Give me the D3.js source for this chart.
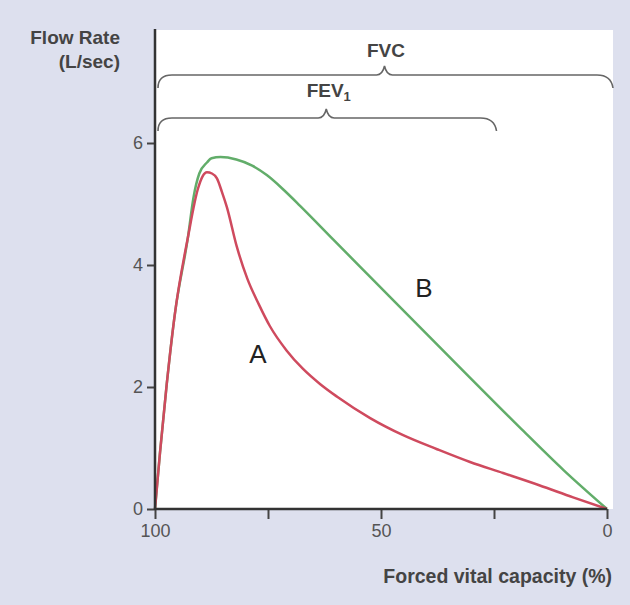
<!DOCTYPE html>
<html>
<head>
<meta charset="utf-8">
<script src="https://cdn.jsdelivr.net/npm/d3@7"></script>
<style>
  body { margin: 0; background: #dde0ee; }
  svg { display: block; font-family: "Liberation Sans", Arial, sans-serif; }
</style>
</head>
<body>
<div id="chart"></div>
<script>
// Kapazität (%) und Fluss (L/sec) – Kurve A (obstruktiv) und B (normal)
const capA = [100, 98.9, 97.4, 95.6, 92.7, 90.5, 89.5, 88.5, 87.4, 86.3, 85.2, 84.1, 81.9, 79.6, 77.0, 74.6, 70.9, 67.3, 63.5, 59.7, 52.4, 45.1, 37.6, 30.3, 23.0, 15.0, 7.5, 0];
const flowA = [0, 0.92, 2.05, 3.2, 4.46, 5.25, 5.45, 5.52, 5.5, 5.42, 5.2, 4.95, 4.3, 3.78, 3.35, 3.0, 2.6, 2.3, 2.05, 1.84, 1.49, 1.21, 0.98, 0.77, 0.59, 0.39, 0.19, 0];

const capB = [100, 98.9, 97.4, 95.6, 92.7, 91.5, 90.2, 88.5, 87.5, 85.5, 82.0, 78.5, 75.2, 71.5, 67.9, 60.6, 51.8, 41.4, 30.0, 19.2, 9.5, 0];
const flowB = [0, 0.92, 2.05, 3.2, 4.46, 5.1, 5.5, 5.68, 5.75, 5.77, 5.73, 5.63, 5.47, 5.23, 4.97, 4.42, 3.76, 2.98, 2.13, 1.33, 0.63, 0];

const yTicks = [0, 2, 4, 6];
const xTicks = [100, 75, 50, 25, 0];
const xTickLabels = { 100: "100", 50: "50", 0: "0" };

// Klammern: FVC über die ganze Kapazität, FEV1 bis ca. 24 %
const fvcSpan = [100, 0];
const fev1Span = [100, 24];

const width = 630, height = 605;

const svg = d3.select("#chart").append("svg")
    .attr("width", width)
    .attr("height", height);

const x = d3.scaleLinear().domain([100, 0]).range([155, 607]);
const y = d3.scaleLinear().domain([0, 6]).range([509, 143]);

// weißes Feld
svg.append("rect")
    .attr("x", x(100)).attr("y", 30)
    .attr("width", 613 - x(100)).attr("height", y(0) - 30)
    .style("fill", "#fff");

// Kurven
const line = d3.line().curve(d3.curveMonotoneX);

svg.append("path")
    .attr("d", line(capB.map((c, i) => [x(c), y(flowB[i])])))
    .style("fill", "none")
    .style("stroke", "#62ad6a")
    .style("stroke-width", 2.5);

svg.append("path")
    .attr("d", line(capA.map((c, i) => [x(c), y(flowA[i])])))
    .style("fill", "none")
    .style("stroke", "#cf4a5e")
    .style("stroke-width", 2.5);

// Achsen
const yAxis = svg.append("g")
    .attr("transform", `translate(${x(100)},0)`)
    .call(d3.axisLeft(y).tickValues(yTicks).tickSize(8).tickPadding(4).tickFormat(d3.format("d")));
yAxis.select(".domain").remove();

const xAxis = svg.append("g")
    .attr("transform", `translate(0,${y(0)})`)
    .call(d3.axisBottom(x).tickValues(xTicks).tickSize(10).tickPadding(5)
        .tickFormat(d => xTickLabels[d] || ""));
xAxis.select(".domain").remove();

svg.selectAll(".tick line").style("stroke", "#444").style("stroke-width", 2);
svg.selectAll(".tick text")
    .style("font-size", "18px")
    .style("fill", "#555")
    .style("font-family", "Liberation Sans, Arial, sans-serif");

svg.append("line")
    .attr("x1", x(100)).attr("x2", x(100))
    .attr("y1", 29).attr("y2", y(0) + 1)
    .style("stroke", "#333").style("stroke-width", 2.5);
svg.append("line")
    .attr("x1", x(100)).attr("x2", x(0))
    .attr("y1", y(0)).attr("y2", y(0))
    .style("stroke", "#333").style("stroke-width", 2.5);

// Achsentitel
const yTitle = svg.append("text")
    .attr("text-anchor", "end")
    .style("font-weight", "bold")
    .style("font-size", "19px")
    .style("fill", "#444");
yTitle.append("tspan").attr("x", 120).attr("y", 44).text("Flow Rate");
yTitle.append("tspan").attr("x", 120).attr("y", 68).text("(L/sec)");

svg.append("text")
    .attr("x", 612).attr("y", 583)
    .attr("text-anchor", "end")
    .style("font-weight", "bold")
    .style("font-size", "19.5px")
    .style("fill", "#444")
    .text("Forced vital capacity (%)");

// geschweifte Klammer
function brace(x0, x1, yl, drop) {
    const xm = (x0 + x1) / 2;
    return `M${x0},${yl + drop} Q${x0},${yl} ${x0 + 14},${yl}` +
        ` L${xm - 8},${yl} Q${xm - 2},${yl} ${xm},${yl - 9}` +
        ` Q${xm + 2},${yl} ${xm + 8},${yl}` +
        ` L${x1 - 14},${yl} Q${x1},${yl} ${x1 + 2},${yl + drop}`;
}

svg.append("path")
    .attr("d", brace(x(fvcSpan[0]) + 3, x(fvcSpan[1]) + 4, 75, 13))
    .style("fill", "none").style("stroke", "#666").style("stroke-width", 1.6);
svg.append("path")
    .attr("d", brace(x(fev1Span[0]) + 3, x(fev1Span[1]) - 4, 118, 13))
    .style("fill", "none").style("stroke", "#666").style("stroke-width", 1.6);

svg.append("text")
    .attr("x", (x(fvcSpan[0]) + x(fvcSpan[1])) / 2 + 5).attr("y", 57)
    .attr("text-anchor", "middle")
    .style("font-weight", "bold").style("font-size", "19px").style("fill", "#444")
    .text("FVC");

const fevText = svg.append("text")
    .attr("x", (x(fev1Span[0]) + x(fev1Span[1])) / 2 + 2).attr("y", 97)
    .attr("text-anchor", "middle")
    .style("font-weight", "bold").style("font-size", "19px").style("fill", "#444");
fevText.append("tspan").text("FEV");
fevText.append("tspan").attr("dy", 4).style("font-size", "13px").text("1");

// Kurvenbeschriftung
svg.append("text")
    .attr("x", 258).attr("y", 363)
    .attr("text-anchor", "middle")
    .style("font-size", "26px").style("fill", "#222")
    .text("A");
svg.append("text")
    .attr("x", 424).attr("y", 297)
    .attr("text-anchor", "middle")
    .style("font-size", "26px").style("fill", "#222")
    .text("B");
</script>
</body>
</html>
